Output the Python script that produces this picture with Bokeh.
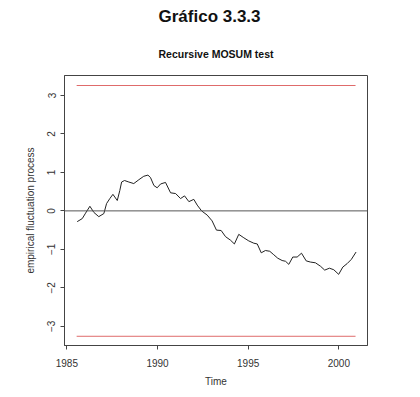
from bokeh.plotting import figure
from bokeh.models import Range1d, FixedTicker, Span, Title
from bokeh.embed import file_html
from bokeh.resources import INLINE

# ---- data ----
time = [1985.57, 1985.85, 1986.03, 1986.27, 1986.49, 1986.76, 1987.04, 1987.19, 1987.37, 1987.54,
        1987.78, 1987.92, 1988.02, 1988.18, 1988.42, 1988.69, 1988.97, 1989.24, 1989.47, 1989.61,
        1989.80, 1989.98, 1990.17, 1990.44, 1990.72, 1991.00, 1991.27, 1991.49, 1991.73, 1992.00,
        1992.19, 1992.43, 1992.74, 1993.01, 1993.25, 1993.51, 1993.75, 1994.02, 1994.24, 1994.48,
        1994.76, 1995.03, 1995.31, 1995.50, 1995.72, 1995.95, 1996.19, 1996.41, 1996.63, 1996.87,
        1997.06, 1997.24, 1997.46, 1997.70, 1997.94, 1998.20, 1998.43, 1998.71, 1998.99, 1999.22,
        1999.48, 1999.72, 1999.99, 2000.22, 2000.46, 2000.69, 2000.95]
fluct = [-0.28, -0.20, -0.06, 0.12, -0.04, -0.15, -0.07, 0.19, 0.32, 0.43,
         0.27, 0.53, 0.75, 0.79, 0.75, 0.71, 0.81, 0.90, 0.93, 0.87,
         0.66, 0.60, 0.70, 0.74, 0.47, 0.45, 0.32, 0.39, 0.24, 0.30,
         0.15, 0.00, -0.11, -0.26, -0.50, -0.51, -0.67, -0.76, -0.86, -0.61,
         -0.70, -0.78, -0.84, -0.86, -1.09, -1.03, -1.05, -1.14, -1.23, -1.29,
         -1.31, -1.39, -1.20, -1.20, -1.10, -1.30, -1.33, -1.35, -1.44, -1.54,
         -1.49, -1.53, -1.65, -1.46, -1.37, -1.26, -1.07]
boundary_time = [1985.54, 2000.92]
boundary = 3.26
x_ticks = [1985, 1990, 1995, 2000]
y_ticks = [-3, -2, -1, 0, 1, 2, 3]

main_title = "Gráfico 3.3.3"
sub_title = "Recursive MOSUM test"

FONT = "Liberation Sans"

x0, x1 = 1984.87, 2001.58
y0, y1 = -3.50, 3.52

p = figure(width=412, height=389, output_backend="svg", toolbar_location=None,
           x_range=Range1d(x0, x1), y_range=Range1d(y0, y1),
           min_border_left=64, min_border_right=45, min_border_top=73, min_border_bottom=43)
p.background_fill_color = "white"
p.border_fill_color = "white"
p.outline_line_color = "#444444"
p.outline_line_width = 1
p.xgrid.visible = False
p.ygrid.visible = False

# main title (outer) and subtitle (added later, sits next to the frame)
p.title.text = main_title
p.title.align = "left"
p.title.offset = 94
p.title.text_font = FONT
p.title.text_font_size = "17px"
p.title.text_font_style = "bold"
p.title.text_color = "#111111"
p.title.standoff = 9

p.add_layout(Title(text=sub_title, align="center", text_font=FONT, text_font_size="10.5px",
                   text_font_style="bold", text_color="#111111", standoff=31), "above")

for ax in (p.xaxis[0], p.yaxis[0]):
    ax.axis_line_color = "#444444"
    ax.major_tick_line_color = "#444444"
    ax.minor_tick_line_color = None
    ax.major_tick_in = 0
    ax.major_tick_out = 4
    ax.major_label_text_font = FONT
    ax.major_label_text_font_size = "10px"
    ax.major_label_text_color = "#333333"
    ax.axis_label_text_font = FONT
    ax.axis_label_text_font_size = "10px"
    ax.axis_label_text_font_style = "normal"
    ax.axis_label_text_color = "#333333"

p.xaxis.ticker = FixedTicker(ticks=x_ticks)
p.yaxis.ticker = FixedTicker(ticks=y_ticks)
p.yaxis.major_label_orientation = "vertical"
p.xaxis.axis_label = "Time"
p.yaxis.axis_label = "empirical fluctuation process"
p.xaxis.major_label_standoff = 9
p.xaxis.axis_label_standoff = 6
p.yaxis.major_label_standoff = 5
p.yaxis.axis_label_standoff = 9

# zero line
p.add_layout(Span(location=0, dimension="width", line_color="#555555", line_width=1))

# boundaries
p.line(boundary_time, [boundary, boundary], line_color="#df6b6b", line_width=1)
p.line(boundary_time, [-boundary, -boundary], line_color="#df6b6b", line_width=1)

# process
p.line(time, fluct, line_color="#222222", line_width=1)

open("out.html", "w").write(file_html(p, INLINE))
